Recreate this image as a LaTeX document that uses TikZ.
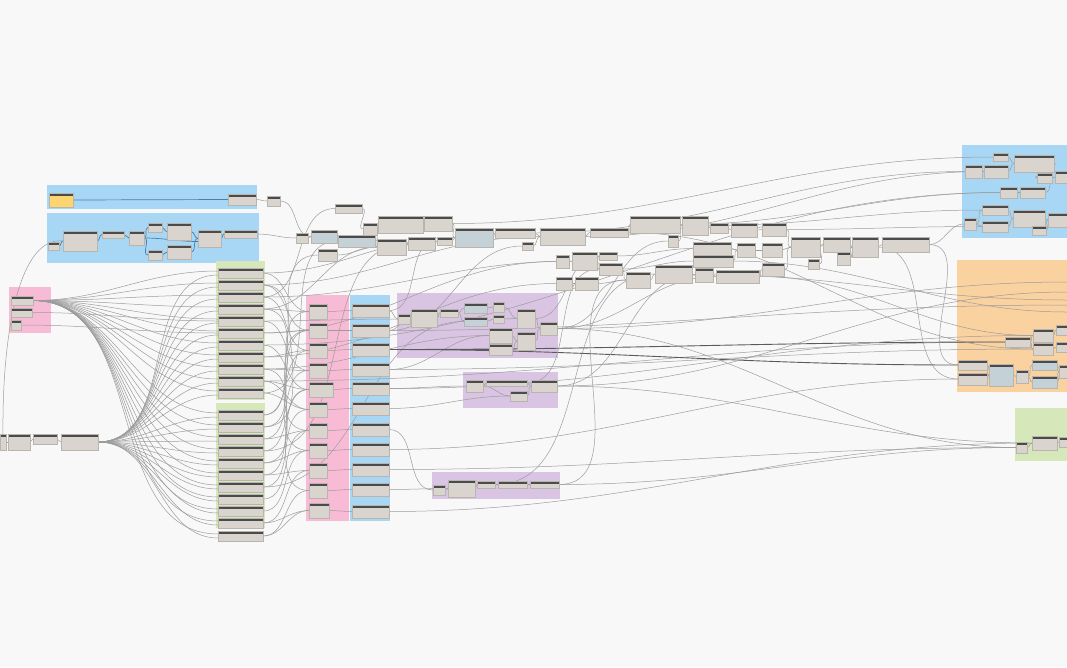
\documentclass[tikz,border=0pt]{standalone}
\usetikzlibrary{calc}
\definecolor{bg}{HTML}{F8F8F8}
\definecolor{gblue}{HTML}{A8D7F6}
\definecolor{gpink}{HTML}{F8BBD5}
\definecolor{ggreen}{HTML}{D6E8BA}
\definecolor{gpurple}{HTML}{D9C4E3}
\definecolor{gorange}{HTML}{FAD29F}
\definecolor{nbody}{HTML}{D9D5CE}
\definecolor{nbluebody}{HTML}{C4D1D7}
\definecolor{nyellow}{HTML}{FCD571}
\definecolor{nhead}{HTML}{4B4B4B}
\definecolor{wgrey}{HTML}{9C9C9C}
\definecolor{wdark}{HTML}{5A5A5A}
\definecolor{wblue}{HTML}{4C7DA6}
\pgfdeclarelayer{grp}
\pgfdeclarelayer{wires}
\pgfsetlayers{grp,wires,main}
\tikzset{
  dn/.style={anchor=north west,inner sep=0pt,outer sep=0pt,fill=nbody,draw=nbody!85!black,line width=0.2pt,
    path picture={\fill[nhead] (path picture bounding box.north west) rectangle ([yshift=-3pt]path picture bounding box.north east);}},
  dnb/.style={dn,fill=nbluebody},
  dny/.style={dn,fill=nyellow},
  wire/.style={draw=wgrey,line width=0.5pt},
  wiredk/.style={draw=wdark,line width=0.9pt},
  wireb/.style={draw=wblue,line width=0.7pt},
}
\newcommand\DN[6][dn]{\node[#1,minimum width=#5pt,minimum height=#6pt] (#2) at (#3,#4) {};}
\newcommand\W[3][wire]{\draw[#1] (#2.east) to[out=0,in=180] (#3.west);}
\begin{document}
\begin{tikzpicture}[x=1pt,y=-1pt]
\useasboundingbox (0,0) rectangle (1067,667);
% ---------------- groups
\begin{pgfonlayer}{grp}
\fill[bg] (0,0) rectangle (1067,667);
\fill[gblue] (47,185) rectangle (257,209);
\fill[gblue] (47,213) rectangle (259,263);
\fill[gpink] (9,287) rectangle (51,333);
\fill[ggreen] (216,261) rectangle (265,400);
\fill[ggreen] (216,403) rectangle (265,528);
\fill[gpink] (306,295) rectangle (349,521);
\fill[gblue] (350,295) rectangle (390,521);
\fill[gpurple] (397,293) rectangle (558,358);
\fill[gpurple] (463,372) rectangle (558,408);
\fill[gpurple] (432,472) rectangle (560,499);
\fill[gblue] (962,145) rectangle (1067,238);
\fill[gorange] (957,260) rectangle (1067,392);
\fill[ggreen] (1015,408) rectangle (1067,461);
\end{pgfonlayer}
% ---------------- nodes: top-left blue groups
\DN[dny]{yA}{49}{193}{24}{14}
\DN{nA}{228}{194}{28}{11}
\DN{nA2}{267}{196}{13}{10}
\DN{bb1}{48}{242}{11}{8}
\DN{bb2}{63}{231}{34}{20}
\DN{bb3}{102}{231}{22}{7}
\DN{bb4}{129}{231}{15}{14}
\DN{bb5}{148}{223}{14}{9}
\DN{bb6}{167}{223}{24}{17}
\DN{bb7}{148}{250}{14}{10}
\DN{bb8}{167}{245}{24}{14}
\DN{bb9}{198}{230}{23}{17}
\DN{bb10}{224}{230}{33}{8}
% pink small + left cluster
\DN{s1}{11}{296}{22}{9}
\DN{s2}{11}{308}{21}{9}
\DN{s3}{11}{320}{10}{10}
\DN{c0}{0}{434}{6}{16}
\DN{c1}{8}{434}{22}{16}
\DN{c2}{33}{434}{24}{10}
\DN{c3}{61}{434}{37}{16}
% green column
\foreach \i/\y in {1/268,2/280,3/292,4/304,5/316,6/328,7/340,8/352,9/364,10/376,11/388}{\DN{g\i}{218}{\y}{45}{10}}
\foreach \i/\y in {1/410,2/422,3/434,4/446,5/458,6/470,7/482,8/494,9/506,10/518,11/531}{\DN{h\i}{218}{\y}{45}{10}}
% pink and blue columns
\foreach \i/\y/\w in {1/304/18,2/323/18,3/343/18,4/363/18,5/382/24,6/402/18,7/423/18,8/443/18,9/463/18,10/483/18,11/503/20}{\DN{p\i}{309}{\y}{\w}{15}}
\foreach \i/\y in {1/304,2/324,3/343,4/363,5/382,6/402,7/423,8/443,9/463,10/483,11/505}{\DN{q\i}{352}{\y}{37}{13}}
% purple big
\DN{u1}{398}{314}{12}{10}
\DN{u2}{411}{309}{26}{18}
\DN{u3}{440}{309}{18}{8}
\DN[dnb]{u4}{464}{303}{23}{10}
\DN[dnb]{u5}{464}{317}{23}{9}
\DN{u6}{493}{302}{11}{10}
\DN{u7}{493}{315}{11}{8}
\DN{u8}{489}{328}{23}{15}
\DN{u9}{489}{344}{23}{11}
\DN{u10}{517}{309}{18}{19}
\DN{u11}{517}{332}{18}{18}
\DN{u12}{540}{322}{17}{13}
% purple medium / small
\DN{v1}{466}{380}{17}{12}
\DN{v2}{486}{380}{41}{6}
\DN{v3}{510}{391}{17}{10}
\DN{v4}{531}{380}{26}{12}
\DN{w1}{433}{485}{12}{10}
\DN{w2}{448}{480}{27}{17}
\DN{w3}{477}{481}{18}{7}
\DN{w4}{498}{481}{29}{7}
\DN{w5}{530}{481}{29}{7}
% top middle chain
\DN{t1}{296}{233}{12}{10}
\DN[dnb]{t2}{311}{230}{26}{13}
\DN{t3}{335}{204}{27}{9}
\DN{t4}{318}{249}{19}{12}
\DN[dnb]{t5}{338}{235}{37}{12}
\DN{t6}{363}{223}{14}{12}
\DN{t7}{378}{216}{45}{17}
\DN{t8}{424}{216}{28}{15}
\DN{t9}{377}{239}{29}{16}
\DN{t10}{408}{237}{27}{13}
\DN{t11}{437}{237}{15}{8}
\DN[dnb]{t12}{455}{228}{38}{19}
\DN{t13}{495}{228}{40}{10}
\DN{t14}{522}{242}{11}{8}
\DN{t15}{540}{228}{45}{17}
\DN{t16}{590}{228}{38}{9}
\DN{t17}{630}{216}{50}{17}
\DN{t18}{682}{216}{26}{19}
\DN{t19}{668}{235}{10}{12}
\DN{t20}{710}{223}{18}{10}
\DN{t21}{731}{223}{26}{14}
\DN{t22}{762}{223}{24}{13}
\DN{t23}{693}{242}{38}{13}
\DN{t24}{693}{255}{40}{12}
\DN{t25}{737}{243}{18}{14}
\DN{t26}{762}{243}{20}{14}
\DN{t27}{762}{263}{22}{13}
\DN{t28}{556}{255}{13}{13}
\DN{t29}{572}{252}{25}{18}
\DN{t30}{599}{252}{18}{8}
\DN{t31}{599}{263}{23}{12}
\DN{t32}{626}{272}{24}{16}
\DN{t33}{655}{265}{37}{18}
\DN{t34}{695}{268}{18}{14}
\DN{t35}{716}{270}{43}{13}
\DN{t36}{556}{277}{16}{13}
\DN{t37}{575}{277}{23}{13}
\DN{t41}{791}{237}{29}{20}
\DN{t42}{823}{237}{27}{15}
\DN{t43}{837}{252}{13}{13}
\DN{t44}{808}{259}{11}{10}
\DN{t45}{852}{237}{26}{20}
\DN{t46}{882}{237}{47}{15}
% right blue
\DN{r1}{993}{153}{15}{8}
\DN{r2}{1014}{155}{40}{17}
\DN{r3}{965}{165}{17}{13}
\DN{r4}{984}{165}{24}{13}
\DN{r5}{1037}{173}{15}{10}
\DN{r6}{1055}{171}{12}{12}
\DN{r7}{1000}{187}{17}{11}
\DN{r8}{1020}{187}{25}{11}
\DN{r9}{982}{205}{26}{10}
\DN{r10}{982}{221}{26}{11}
\DN{r11}{1013}{210}{32}{17}
\DN{r12}{1048}{213}{19}{14}
\DN{r13}{964}{218}{12}{12}
\DN{r14}{1032}{226}{14}{9}
% orange
\DN{o1}{1005}{337}{25}{10}
\DN{o2}{1033}{329}{20}{13}
\DN{o3}{1056}{325}{11}{10}
\DN{o4}{1033}{343}{20}{12}
\DN{o5}{1056}{342}{11}{10}
\DN{o6}{958}{360}{29}{10}
\DN{o7}{958}{373}{29}{12}
\DN[dnb]{o8}{989}{364}{24}{22}
\DN{o9}{1016}{370}{12}{13}
\DN[dnb]{o10}{1032}{360}{25}{10}
\DN[dnb]{o11}{1032}{376}{25}{12}
\DN{o12}{1059}{365}{8}{13}
% green right
\DN{e1}{1016}{442}{11}{11}
\DN{e2}{1032}{436}{25}{14}
\DN{e3}{1059}{437}{8}{10}
% free ends at the right border
\coordinate (x1) at (1067,282);
\coordinate (x2) at (1067,292);
\coordinate (x3) at (1067,305);
\coordinate (x4) at (1067,312);
\coordinate (x5) at (1067,300);
% ---------------- wires
\begin{pgfonlayer}{wires}
% blue A / B
\draw[wireb] (yA.east) -- (nA.west);
\W{nA}{nA2}
\W{nA2}{t2}
\W{bb10}{t1}
\W[wireb]{bb1}{bb2}
\W[wireb]{bb2}{bb3}
\W[wireb]{bb3}{bb4}
\W[wireb]{bb4}{bb5}
\W[wireb]{bb4}{bb7}
\W[wireb]{bb5}{bb6}
\W[wireb]{bb7}{bb8}
\W[wireb]{bb6}{bb9}
\W[wireb]{bb8}{bb9}
\draw[wireb] (bb4.east) to[out=0,in=180] ([yshift=-3pt]bb9.west);
\W[wireb]{bb9}{bb10}
\draw[wire] (c0.north) .. controls (2,330) and (20,236) .. (bb2.west);
% left cluster
\W{c0}{c1}
\W{c1}{c2}
\W{c2}{c3}
% fans
\foreach \i in {1,...,11}{
  \draw[wire] (s1.east) to[out=0,in=180] ([yshift=2pt]g\i.west);
  \draw[wire] (s1.east) to[out=0,in=180] ([yshift=2pt]h\i.west);
  \draw[wire] (c3.east) to[out=0,in=180] ([yshift=-2pt]g\i.west);
  \draw[wire] (c3.east) to[out=0,in=180] ([yshift=-2pt]h\i.west);
}
\W{s2}{g5}
\W{s3}{g6}
% green -> pink
\foreach \a/\b in {g1/p1,g4/p1,h2/p1,g2/p2,g6/p2,h5/p2,g3/p3,g8/p3,h1/p3,g5/p4,g9/p4,h3/p4,g7/p5,g10/p5,h4/p5,h6/p5,g11/p6,h7/p6,h8/p7,g2/p7,h9/p8,g4/p8,h10/p9,h6/p9,h11/p10,g9/p10,h11/p11,h10/p11,h1/p2,g10/p6,h3/p7,h5/p8}{\W{\a}{\b}}
% pink -> blue
\foreach \i in {1,...,11}{\W{p\i}{q\i}}
% green -> top / right
\foreach \a/\b in {g1/t12,g2/t15,g3/t29,g4/t9,g5/u1,g6/t28,g7/r7,g8/t36,g9/u8,g10/o1,g11/t5,h2/t4,h4/t10,g3/t3,h7/u5}{\W{\a}{\b}}
% blue column -> right
\W{q1}{u1}
\W{q2}{u2}
\W[wiredk]{q3}{u9}
\W{q4}{u8}
\W{q5}{v1}
\W{q6}{v3}
\W{q7}{w1}
\W{q8}{o7}
\W{q9}{e1}
\W{q10}{w2}
\W{q11}{e2}
\W{q1}{t11}
\W{q2}{t14}
% bundle through purple
\W[wiredk]{q3}{o6}
\W[wiredk]{q3}{o1}
\W{q4}{o4}
\W{q5}{o2}
% purple groups
\foreach \a/\b in {u1/u2,u2/u3,u3/u4,u3/u5,u4/u6,u5/u7,u6/u10,u7/u10,u8/u11,u9/u11,u10/u12,u11/u12,v1/v2,v2/v4,v3/v4,v1/v3,w1/w2,w2/w3,w3/w4,w4/w5}{\W{\a}{\b}}
% top chain
\foreach \a/\b in {t1/t2,t2/t5,t3/t6,t5/t7,t6/t7,t7/t8,t5/t9,t9/t10,t10/t11,t8/t12,t11/t12,t12/t13,t13/t15,t14/t15,t15/t16,t16/t17,t17/t18,t18/t20,t20/t21,t21/t22,t19/t18,t23/t25,t24/t25,t25/t26,t28/t29,t29/t30,t29/t31,t31/t32,t32/t33,t33/t34,t34/t35,t35/t27,t22/t41,t26/t41,t27/t41,t41/t42,t44/t42,t42/t45,t43/t45,t45/t46,t36/t37,t37/t32,t4/t9,t30/t23,t31/t24}{\W{\a}{\b}}
% long wires to right
\foreach \a/\b in {t8/r1,t13/r3,t15/r4,t17/r7,t18/r9,t22/r10,t46/r13,t46/o6,t45/o7,t16/o4,t35/o2,u12/e1,w5/e1,v4/e2}{\W{\a}{\b}}
% backward wires from purple up to top
\foreach \a/\b in {w5/t32,v4/t34,u12/t35,w3/t33,u10/t30,v2/t31,u12/t19}{\W{\a}{\b}}
% through orange to the border
\draw[wire] (u12.east) to[out=0,in=180] (x1);
\draw[wire] (v4.east) to[out=0,in=180] (x2);
\draw[wire] (q2.east) to[out=0,in=180] (x3);
\draw[wire] (t24.east) to[out=0,in=180] (x4);
\draw[wire] (t33.east) to[out=0,in=180] (x5);
% right groups
\foreach \a/\b in {r3/r4,r1/r2,r4/r2,r2/r5,r5/r6,r7/r8,r8/r6,r13/r9,r13/r10,r9/r11,r10/r11,r11/r12,r14/r12,o1/o2,o1/o4,o2/o3,o4/o5,o6/o8,o7/o8,o8/o9,o9/o10,o9/o11,o10/o12,o11/o12,e1/e2,e2/e3}{\W{\a}{\b}}
\end{pgfonlayer}
\end{tikzpicture}
\end{document}
